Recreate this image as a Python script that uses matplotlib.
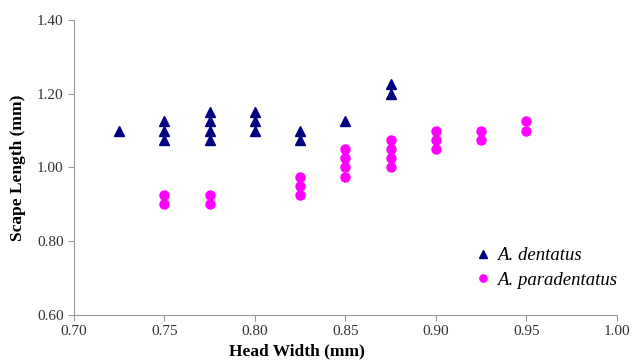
import matplotlib.pyplot as plt

plt.rcParams['font.family'] = 'Liberation Serif'

# A. dentatus
dent_x = [0.725, 0.75, 0.75, 0.75, 0.775, 0.775, 0.775, 0.775,
          0.80, 0.80, 0.80, 0.825, 0.825, 0.85, 0.875, 0.875]
dent_y = [1.10, 1.075, 1.10, 1.125, 1.075, 1.10, 1.125, 1.15,
          1.10, 1.125, 1.15, 1.075, 1.10, 1.125, 1.20, 1.225]

# A. paradentatus
para_x = [0.75, 0.75, 0.775, 0.775, 0.825, 0.825, 0.825,
          0.85, 0.85, 0.85, 0.85, 0.875, 0.875, 0.875, 0.875,
          0.90, 0.90, 0.90, 0.925, 0.925, 0.95, 0.95]
para_y = [0.90, 0.925, 0.90, 0.925, 0.925, 0.95, 0.975,
          0.975, 1.00, 1.025, 1.05, 1.00, 1.025, 1.05, 1.075,
          1.05, 1.075, 1.10, 1.075, 1.10, 1.10, 1.125]

fig = plt.figure(figsize=(6.35, 3.62), dpi=100)
ax = fig.add_axes([0.1165, 0.13, 0.855, 0.815])

ax.plot(dent_x, dent_y, linestyle='none', marker='^', color='#000080',
        markersize=7.5, label='A. dentatus')
ax.plot(para_x, para_y, linestyle='none', marker='o', color='#ff00ff',
        markersize=6.5, label='A. paradentatus')

ax.set_xlim(0.70, 1.00)
ax.set_ylim(0.60, 1.40)
ax.set_xticks([0.70, 0.75, 0.80, 0.85, 0.90, 0.95, 1.00])
ax.set_yticks([0.60, 0.80, 1.00, 1.20, 1.40])
ax.xaxis.set_major_formatter(plt.FormatStrFormatter('%.2f'))
ax.yaxis.set_major_formatter(plt.FormatStrFormatter('%.2f'))

for s in ['top', 'right']:
    ax.spines[s].set_visible(False)
for s in ['left', 'bottom']:
    ax.spines[s].set_color('#999999')
ax.tick_params(colors='#999999', labelcolor='#333333', labelsize=11,
               length=4, direction='out')

ax.set_xlabel('Head Width (mm)', fontweight='bold', fontsize=12.5, labelpad=2)
ax.xaxis.set_label_coords(0.41, -0.095)
ax.set_ylabel('Scape Length (mm)', fontweight='bold', fontsize=12.5, labelpad=8)

leg = ax.legend(loc='center left', bbox_to_anchor=(0.737, 0.159), frameon=False,
                prop={'style': 'italic', 'size': 13.5}, borderpad=0,
                borderaxespad=0, handletextpad=0.2, handlelength=1.0,
                labelspacing=0.4, markerscale=0.8)

fig.savefig('out.png', dpi=100)
